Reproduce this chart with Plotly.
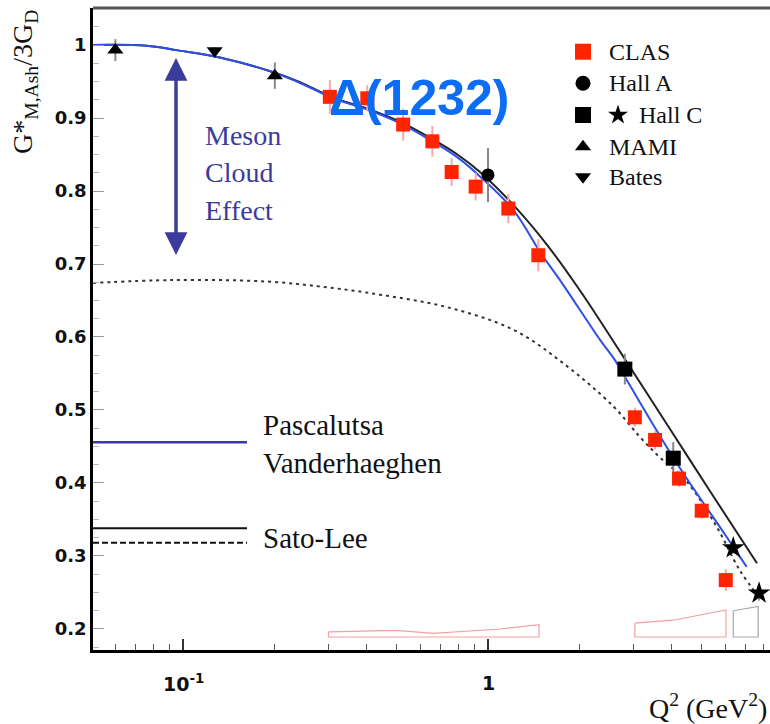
import math
import plotly.graph_objects as go

# ---------------- measured form factor G*_M,Ash / 3G_D ----------------
clas_q2 = [0.303, 0.402, 0.527, 0.657, 0.760, 0.911, 1.166, 1.462, 3.03, 3.53, 4.23, 5.02, 6.02]
clas_g = [0.929, 0.927, 0.891, 0.868, 0.826, 0.806, 0.776, 0.712, 0.490, 0.459, 0.406, 0.362, 0.267]
clas_err = [0.023, 0.018, 0.022, 0.021, 0.019, 0.019, 0.020, 0.022, 0.013, 0.013, 0.011, 0.011, 0.015]

halla_q2 = [1.0]
halla_g = [0.822]
halla_err = [0.037]

hallc_sq_q2 = [2.81, 4.05]
hallc_sq_g = [0.556, 0.434]
hallc_sq_err = [0.021, 0.022]

hallc_star_q2 = [6.37, 7.74]
hallc_star_g = [0.311, 0.249]
hallc_star_err = [0.008, 0.010]

mami_q2 = [0.060, 0.200]
mami_g = [0.993, 0.958]
mami_err = [0.015, 0.018]

bates_q2 = [0.127]
bates_g = [0.992]
bates_err = [0.005]

# ---------------- systematic uncertainty bands ----------------
sys_floor = 0.189
sys_clas1_q2 = [0.30, 0.50, 0.66, 0.85, 1.10, 1.47]
sys_clas1_top = [0.196, 0.198, 0.194, 0.197, 0.200, 0.206]
sys_clas2_q2 = [3.03, 4.05, 6.03]
sys_clas2_top = [0.208, 0.212, 0.226]
sys_hallc_q2 = [6.37, 7.69]
sys_hallc_top = [0.225, 0.231]

# ---------------- model curves ----------------
pv_q2 = [0.0507, 0.076, 0.095, 0.132, 0.20, 0.242, 0.311, 0.40, 0.514, 0.645, 0.80,
         0.941, 1.21, 1.50, 1.722, 2.33, 2.61, 2.85, 4.16, 6.06, 7.05]
pv_g = [1.000, 0.999, 0.993, 0.983, 0.962, 0.948, 0.927, 0.912, 0.893, 0.870, 0.845,
        0.820, 0.774, 0.713, 0.678, 0.596, 0.568, 0.541, 0.427, 0.326, 0.285]

sl_q2 = [0.0507, 0.076, 0.095, 0.132, 0.20, 0.242, 0.311, 0.40, 0.514, 0.645, 0.80,
         0.941, 1.21, 1.557, 2.0, 2.71, 3.95, 5.34, 7.62]
sl_g = [1.000, 0.999, 0.993, 0.983, 0.962, 0.949, 0.928, 0.913, 0.895, 0.873, 0.849,
        0.826, 0.781, 0.727, 0.664, 0.580, 0.474, 0.389, 0.290]

sl_bare_q2 = [0.0507, 0.0927, 0.188, 0.311, 0.442, 0.732, 1.21, 1.765, 2.576, 3.15,
              3.66, 4.48, 5.62, 6.70, 7.79]
sl_bare_g = [0.674, 0.678, 0.676, 0.667, 0.658, 0.641, 0.610, 0.564, 0.505, 0.463,
             0.435, 0.402, 0.340, 0.280, 0.242]

# ---------------- axes ----------------
x_major = [0.1, 1]
x_major_text = ["10<sup>-1</sup>", "1"]
x_minor = [0.06, 0.07, 0.08, 0.09, 0.2, 0.3, 0.4, 0.5, 0.6, 0.7, 0.8, 0.9,
           2, 3, 4, 5, 6, 7, 8]
y_major = [0.2, 0.3, 0.4, 0.5, 0.6, 0.7, 0.8, 0.9, 1.0]
y_major_text = ["0.2", "0.3", "0.4", "0.5", "0.6", "0.7", "0.8", "0.9", "1"]
y_minor = [round(0.175 + 0.025 * i, 3) for i in range(36)]

legend_labels = ["CLAS", "Hall A", "Hall C", "MAMI", "Bates"]

W, H = 770, 724
L, R, T, B = 93, 0, 8, 74
PW, PH = W - L - R, H - T - B

SERIF = "Liberation Serif, Times New Roman, serif"
SANS_BOLD = "DejaVu Sans, sans-serif"

CLAS_RED = "#ff2400"
CLAS_ERR = "#f7a8a8"
BLUE = "#2f50e2"
NAVY = "#3b3b9c"

fig = go.Figure()

# systematic bands (open polygons)
def add_band(q2, top, color):
    xs = list(q2) + list(reversed(q2)) + [q2[0]]
    ys = list(top) + [sys_floor] * len(q2) + [top[0]]
    fig.add_trace(go.Scatter(x=xs, y=ys, mode="lines",
                             line=dict(color=color, width=1.2),
                             hoverinfo="skip", showlegend=False))

add_band(sys_clas1_q2, sys_clas1_top, "#f4a0a0")
add_band(sys_clas2_q2, sys_clas2_top, "#f4a0a0")
add_band(sys_hallc_q2, sys_hallc_top, "#a8a8a8")

# model curves
fig.add_trace(go.Scatter(x=sl_bare_q2, y=sl_bare_g, mode="lines",
                         line=dict(color="#333333", width=2, dash="3px,4px", shape="spline"),
                         showlegend=False))
fig.add_trace(go.Scatter(x=sl_q2, y=sl_g, mode="lines",
                         line=dict(color="#222222", width=2, shape="spline"),
                         showlegend=False))
fig.add_trace(go.Scatter(x=pv_q2, y=pv_g, mode="lines",
                         line=dict(color=BLUE, width=2, shape="spline"),
                         showlegend=False))

# data sets
def add_data(q2, g, err, symbol, color, size, errcolor):
    fig.add_trace(go.Scatter(
        x=q2, y=g, mode="markers",
        marker=dict(symbol=symbol, color=color, size=size, opacity=1, line=dict(width=0)),
        error_y=dict(type="data", array=err, color=errcolor, thickness=2, width=0),
        showlegend=False))

add_data(mami_q2, mami_g, mami_err, "triangle-up", "black", 14, "#888888")
add_data(bates_q2, bates_g, bates_err, "triangle-down", "black", 14, "#888888")
add_data(halla_q2, halla_g, halla_err, "circle", "black", 13, "#888888")
add_data(hallc_sq_q2, hallc_sq_g, hallc_sq_err, "square", "black", 15, "#888888")
add_data(clas_q2, clas_g, clas_err, "square", CLAS_RED, 14, CLAS_ERR)
add_data(hallc_star_q2, hallc_star_g, hallc_star_err, "star", "black", 17, "#888888")

# pixel-space overlay for the key and labels
leg_y = [51.7, 83.3, 115.0, 146.7, 176.7]
leg_sym = ["square", "circle", "square", "triangle-up", "triangle-down"]
leg_col = [CLAS_RED, "#000000", "#000000", "#000000", "#000000"]
leg_size = [16, 15, 16, 14, 14]
for yy, sym, col, sz in zip(leg_y, leg_sym, leg_col, leg_size):
    fig.add_trace(go.Scatter(x=[583], y=[yy], mode="markers", xaxis="x2", yaxis="y2",
                             marker=dict(symbol=sym, color=col, size=sz, opacity=1,
                                         line=dict(width=0)),
                             showlegend=False, hoverinfo="skip"))
fig.add_trace(go.Scatter(x=[618], y=[115.0], mode="markers", xaxis="x2", yaxis="y2",
                         marker=dict(symbol="star", color="#000000", size=15, opacity=1,
                                     line=dict(width=0)),
                         showlegend=False, hoverinfo="skip"))

# model key lines
fig.add_trace(go.Scatter(x=[93, 247], y=[442.3, 442.3], mode="lines", xaxis="x2", yaxis="y2",
                         line=dict(color=NAVY, width=2.5), showlegend=False, hoverinfo="skip"))
fig.add_trace(go.Scatter(x=[93, 247], y=[528.3, 528.3], mode="lines", xaxis="x2", yaxis="y2",
                         line=dict(color="#111111", width=2), showlegend=False, hoverinfo="skip"))
fig.add_trace(go.Scatter(x=[93, 247], y=[542.7, 542.7], mode="lines", xaxis="x2", yaxis="y2",
                         line=dict(color="#111111", width=2, dash="6px,3px"),
                         showlegend=False, hoverinfo="skip"))

annotations = []

def txt(x, y, s, size, color="#111111", family=SERIF, xanchor="left", yanchor="middle", **kw):
    annotations.append(dict(x=x, y=y, xref="x2", yref="y2", text=s, showarrow=False,
                            xanchor=xanchor, yanchor=yanchor,
                            font=dict(family=family, size=size, color=color), **kw))

for yy, lab in zip(leg_y, legend_labels):
    txt(636.7 if lab == "Hall C" else 606.7, yy, lab, 24)

txt(261, 425, "Pascalutsa", 29)
txt(261, 463, "Vanderhaeghen", 29)
txt(261, 538, "Sato-Lee", 29)

txt(203, 135, "Meson", 28, color=NAVY)
txt(203, 172, "Cloud", 28, color=NAVY)
txt(203, 210, "Effect", 28, color=NAVY)

annotations.append(dict(x=327, y=98, xref="x2", yref="y2", text="<b>Δ(1232)</b>",
                        showarrow=False, xanchor="left", yanchor="middle",
                        font=dict(family="Liberation Sans, Arial, sans-serif", size=50,
                                  color="#0b6cf4")))

# meson cloud double arrow
annotations.append(dict(x=176, y=58, ax=176, ay=265, xref="x2", yref="y2",
                        axref="x2", ayref="y2", text=" ", showarrow=True,
                        arrowhead=2, arrowside="end+start", arrowsize=1.3,
                        arrowwidth=3.5, arrowcolor=NAVY))

# x tick labels, set just below the axis line
for v, lab in zip(x_major, x_major_text):
    annotations.append(dict(x=math.log10(v), y=(H - B - 683) / PH, xref="x", yref="paper",
                            text=lab, showarrow=False, xanchor="center", yanchor="middle",
                            font=dict(family=SANS_BOLD, size=19, color="#111111",
                                      weight="bold")))

# axis titles (paper coordinates, outside the plotting area)
annotations.append(dict(x=(24 - L) / PW, y=1.0, xref="paper", yref="paper",
                        text="G*<sub>M,Ash</sub>/3G<sub>D</sub>", textangle=-90,
                        showarrow=False, xanchor="center", yanchor="top",
                        font=dict(family=SERIF, size=28, color="#111111")))
annotations.append(dict(x=(769 - L) / PW, y=(H - B - 706) / PH, xref="paper", yref="paper",
                        text="Q<sup>2</sup> (GeV<sup>2</sup>)",
                        showarrow=False, xanchor="right", yanchor="middle",
                        font=dict(family=SERIF, size=28, color="#111111")))

fig.update_layout(
    width=W, height=H, autosize=False,
    margin=dict(l=L, r=R, t=T, b=B),
    paper_bgcolor="white", plot_bgcolor="white",
    showlegend=False,
    annotations=annotations,
    xaxis=dict(
        type="log", range=[-1.2951, 0.9246],
        showgrid=False, zeroline=False,
        showline=True, linecolor="black", linewidth=3,
        ticks="inside", ticklen=11, tickwidth=1.5, tickcolor="#333333",
        tickvals=x_major, showticklabels=False,
        minor=dict(ticks="inside", ticklen=6, tickwidth=1.2, tickcolor="#555555",
                   tickvals=x_minor, showgrid=False),
    ),
    yaxis=dict(
        range=[0.1712, 1.0507],
        showgrid=False, zeroline=False,
        showline=True, linecolor="black", linewidth=2.5,
        ticks="inside", ticklen=11, tickwidth=1.2, tickcolor="#999999",
        tickvals=y_major, ticktext=y_major_text,
        tickfont=dict(family=SANS_BOLD, size=18, color="#111111", weight="bold"),
        ticklabelstandoff=0,
        minor=dict(ticks="inside", ticklen=6, tickwidth=1, tickcolor="#bbbbbb",
                   tickvals=y_minor, showgrid=False),
    ),
    xaxis2=dict(overlaying="x", anchor="y2", range=[93, 770], visible=False),
    yaxis2=dict(overlaying="y", anchor="x2", range=[650, 8], visible=False),
    shapes=[dict(type="line", xref="paper", yref="paper", x0=0, x1=1, y0=1, y1=1,
                 line=dict(color="#555555", width=3))],
)

fig.write_html("out.html")
